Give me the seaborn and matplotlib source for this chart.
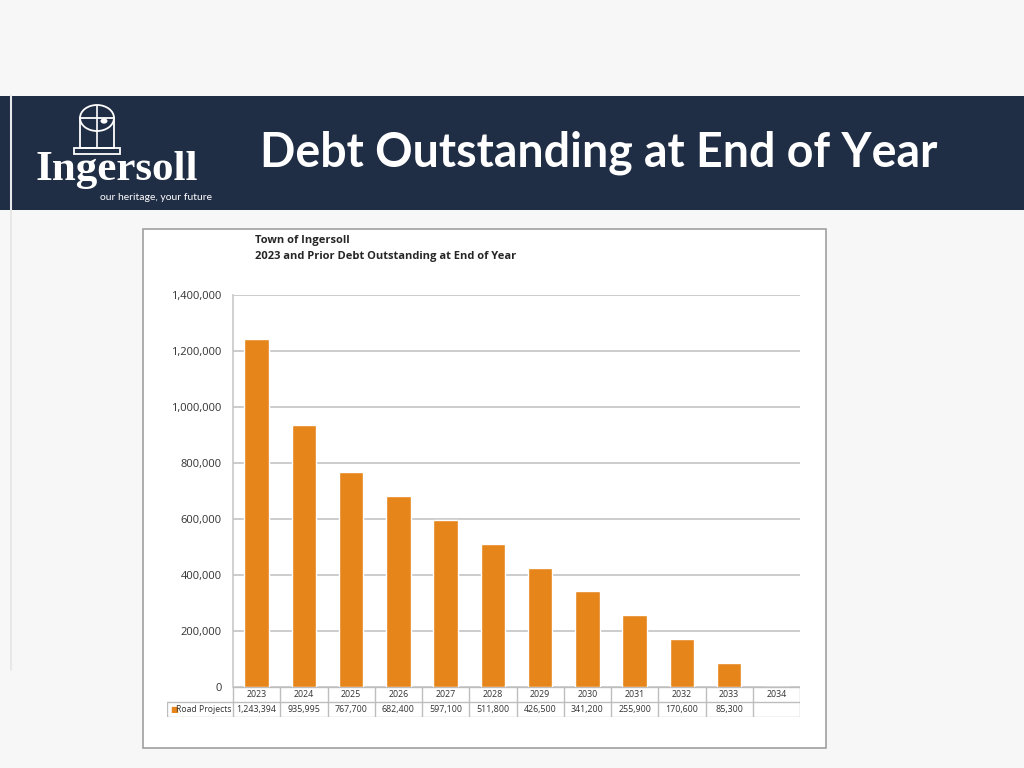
import matplotlib
matplotlib.use("Agg")
import matplotlib.pyplot as plt
import matplotlib.patches as mpatches
import seaborn as sns
import pandas as pd
import numpy as np

years = ["2023", "2024", "2025", "2026", "2027", "2028", "2029", "2030", "2031", "2032", "2033", "2034"]
road_projects = [1243394, 935995, 767700, 682400, 597100, 511800, 426500, 341200, 255900, 170600, 85300, 0]
value_labels = ["1,243,394", "935,995", "767,700", "682,400", "597,100", "511,800", "426,500",
                "341,200", "255,900", "170,600", "85,300", ""]
series_name = "Road Projects"
y_ticks = [0, 200000, 400000, 600000, 800000, 1000000, 1200000, 1400000]
slide_title = "Debt Outstanding at End of Year"
chart_title = ["Town of Ingersoll", "2023 and Prior Debt Outstanding at End of Year"]

sns.set_theme(style="white")
plt.rcParams['font.family'] = ['Open Sans', 'DejaVu Sans']

W, H = 1024, 768
fig = plt.figure(figsize=(W / 100, H / 100), dpi=100)
fig.patch.set_facecolor("#f7f7f7")

def fx(x): return x / W
def fy(y): return 1 - y / H

# banner
fig.add_artist(mpatches.Rectangle((0, fy(210)), 1, (210 - 96) / H, transform=fig.transFigure,
                                  facecolor="#1f2d45", edgecolor="none", zorder=0))
fig.add_artist(plt.Line2D([fx(11), fx(11)], [fy(96), fy(210)], transform=fig.transFigure,
                          color="#e8eaee", lw=1.5, zorder=1))
fig.add_artist(plt.Line2D([fx(11), fx(11)], [fy(210), fy(670)], transform=fig.transFigure,
                          color="#e6e6e6", lw=1.2, zorder=1))
fig.text(fx(260), fy(153), slide_title, color="white", fontsize=33.5, fontweight="bold",
         family=["Lato", "DejaVu Sans"], va="center", ha="left")

# logo
tw = dict(transform=fig.transFigure, facecolor="none", edgecolor="white", lw=1.3, zorder=2)
fig.add_artist(mpatches.Rectangle((fx(80), fy(148)), 34 / W, 30 / H, **tw))
fig.add_artist(mpatches.Ellipse((fx(97), fy(118)), 34 / W, 26 / H, **tw))
fig.add_artist(plt.Line2D([fx(97), fx(97)], [fy(106), fy(148)], transform=fig.transFigure,
                          color="white", lw=1.2, zorder=2))
fig.add_artist(mpatches.Rectangle((fx(74), fy(154)), 46 / W, 6 / H, **tw))
fig.add_artist(mpatches.Circle((fx(104), fy(121)), 3.5 / W, transform=fig.transFigure,
                               facecolor="white", edgecolor="none", zorder=2))
fig.text(fx(117), fy(170), "Ingersoll", color="white", fontsize=31, fontweight="bold",
         family=["Liberation Serif", "DejaVu Serif"], ha="center", va="center", zorder=3)
fig.text(fx(212), fy(197), "our heritage, your future", color="white", fontsize=7.5,
         family=["Lato", "DejaVu Sans"], ha="right", va="center")

# chart frame (white image)
fig.add_artist(mpatches.Rectangle((fx(143), fy(748)), (826 - 143) / W, (748 - 229) / H,
                                  transform=fig.transFigure, facecolor="white",
                                  edgecolor="#a0a0a0", lw=1.2, zorder=0))
fig.text(fx(255), fy(240), chart_title[0], fontsize=8, fontweight="bold", color="#262626",
         ha="left", va="center")
fig.text(fx(255), fy(256), chart_title[1], fontsize=8, fontweight="bold", color="#262626",
         ha="left", va="center")

# bar axes
ax = fig.add_axes([fx(233), fy(687), (800 - 233) / W, (687 - 295) / H])
ax.set_facecolor("none")
df = pd.DataFrame({"Year": years, "Value": road_projects})
sns.barplot(data=df, x="Year", y="Value", color="#e6861a", saturation=1, width=0.52, ax=ax, zorder=3)
ax.set_xlim(-0.5, len(years) - 0.5)
ax.set_ylim(0, 1400000)
ax.set_yticks(y_ticks)
ax.set_yticklabels([f"{v:,}" for v in y_ticks], fontsize=8, color="#333333")
ax.tick_params(axis="y", length=0, pad=8)
ax.set_xticks([])
ax.set_xlabel("")
ax.set_ylabel("")
ax.grid(axis="y", color="#c8c8c8", lw=1.3, zorder=0)
for s in ["top", "right", "bottom"]:
    ax.spines[s].set_visible(False)
ax.spines["left"].set_color("#c8c8c8")
ax.spines["left"].set_linewidth(1.2)

# data table axes
n = len(years)
left_ext = (233 - 167) / ((800 - 233) / n)
tax = fig.add_axes([fx(167), fy(717), (800 - 167) / W, 30 / H])
tax.set_xlim(-0.5 - left_ext, n - 0.5)
tax.set_ylim(0, 2)
tax.axis("off")
lc = "#bdbdbd"
tax.plot([-0.5, n - 0.5], [2, 2], color=lc, lw=1)
tax.plot([-0.5 - left_ext, n - 0.5], [1, 1], color=lc, lw=1)
tax.plot([-0.5 - left_ext, n - 0.5], [0, 0], color=lc, lw=1)
tax.plot([-0.5 - left_ext, -0.5 - left_ext], [0, 1], color=lc, lw=1)
for i in range(n + 1):
    tax.plot([i - 0.5, i - 0.5], [0, 2], color=lc, lw=1)
for i, (yr, lab) in enumerate(zip(years, value_labels)):
    tax.text(i, 1.5, yr, ha="center", va="center", fontsize=6.4, color="#333333")
    tax.text(i, 0.5, lab, ha="center", va="center", fontsize=6.4, color="#333333")
tax.text(-0.5 - left_ext + 0.06, 0.5, "■", ha="left", va="center", fontsize=6, color="#e6861a",
         family=["DejaVu Sans"])
tax.text(-0.5 - left_ext + 0.2, 0.5, series_name, ha="left", va="center", fontsize=6.2,
         color="#333333")

fig.savefig("out.png", dpi=100, facecolor=fig.get_facecolor())
